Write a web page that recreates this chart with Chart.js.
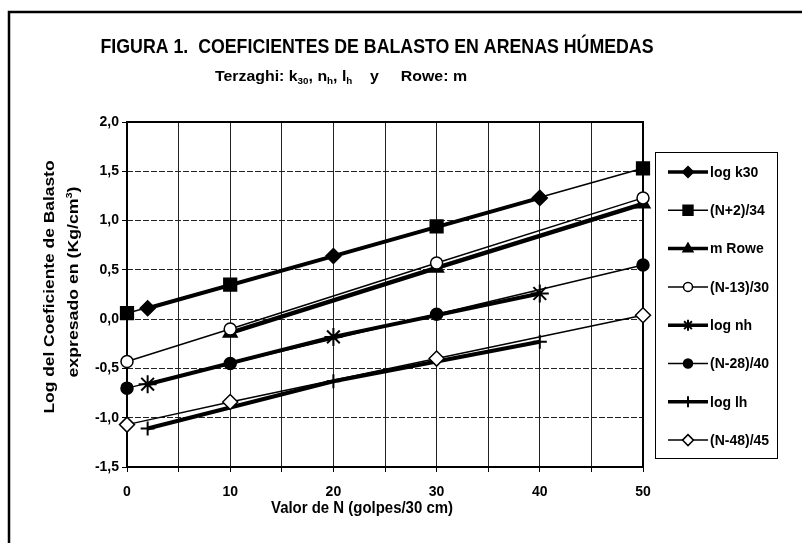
<!DOCTYPE html>
<html>
<head>
<meta charset="utf-8">
<script src="https://cdn.jsdelivr.net/npm/chart.js@4/dist/chart.umd.min.js"></script>
<style>
  html, body { margin: 0; padding: 0; background: #fff; }
  #wrap { width: 802px; height: 543px; position: relative; }
</style>
</head>
<body>
<div id="wrap"><canvas id="chart" width="802" height="543"></canvas></div>
<script>
// N values (golpes/30 cm) where each family was plotted
const nLog = [2, 20, 40];
const nFit = [0, 10, 30, 50];
const nRowe = [10, 30, 50];

// values (log of kg/cm3)
const logK30 = [0.11, 0.64, 1.23];
const fitN2 = [0.06, 0.35, 0.94, 1.53];     // (N+2)/34
const mRowe = [-0.14, 0.52, 1.17];
const fitN13 = [-0.43, -0.10, 0.57, 1.23];  // (N-13)/30
const logNh = [-0.66, -0.18, 0.26];
const fitN28 = [-0.70, -0.45, 0.05, 0.55];  // (N-28)/40
const logLh = [-1.11, -0.63, -0.23];
const fitN48 = [-1.07, -0.84, -0.40, 0.04]; // (N-48)/45

const yTicks = [-1.5, -1.0, -0.5, 0.0, 0.5, 1.0, 1.5, 2.0];
const xLabels = [0, 10, 20, 30, 40, 50];

const FONT = '"Liberation Sans", Arial, Helvetica, sans-serif';

function pts(xs, ys) {
    return xs.map((x, i) => ({ x: x, y: ys[i] }));
}

function series(label, xs, ys, opts) {
    return Object.assign({
        label: label,
        data: pts(xs, ys),
        borderColor: '#000',
        pointBorderColor: '#000',
        pointBorderWidth: 1.5,
        tension: 0,
        clip: false
    }, opts);
}

const datasets = [
    series('log k30', nLog, logK30, { borderWidth: 4, pointStyle: 'rectRot', pointRadius: 7.5, pointBackgroundColor: '#000', order: 2 }),
    series('(N+2)/34', nFit, fitN2, { borderWidth: 1.5, pointStyle: 'rect', pointRadius: 9, pointBackgroundColor: '#000', order: 1 }),
    series('m Rowe', nRowe, mRowe, { borderWidth: 4.5, pointStyle: 'triangle', pointRadius: 8, pointBackgroundColor: '#000', order: 3 }),
    series('(N-13)/30', nFit, fitN13, { borderWidth: 1.5, pointStyle: 'circle', pointRadius: 6, pointBackgroundColor: '#fff', order: 0 }),
    series('log nh', nLog, logNh, { borderWidth: 4, pointStyle: 'star', pointRadius: 9, pointBorderWidth: 2, pointBackgroundColor: '#000', order: 2 }),
    series('(N-28)/40', nFit, fitN28, { borderWidth: 1.5, pointStyle: 'circle', pointRadius: 6, pointBackgroundColor: '#000', order: 1 }),
    series('log lh', nLog, logLh, { borderWidth: 4, pointStyle: 'cross', pointRadius: 7, pointBorderWidth: 2, pointBackgroundColor: '#000', order: 2 }),
    series('(N-48)/45', nFit, fitN48, { borderWidth: 1.5, pointStyle: 'rectRot', pointRadius: 7.5, pointBackgroundColor: '#fff', order: 0 })
];

// text made of pieces, some of them sub/superscript, squeezed to a given width
function richText(ctx, parts, size, targetWidth) {
    let w = 0;
    parts.forEach(p => {
        const s = p.sub || p.sup ? size * 0.62 : size;
        ctx.font = 'bold ' + s + 'px ' + FONT;
        p._w = ctx.measureText(p.t).width;
        p._s = s;
        w += p._w;
    });
    const sx = targetWidth ? targetWidth / w : 1;
    return { w: w, sx: sx };
}

function drawRich(ctx, parts, cx, baseline, size, targetWidth, rotate) {
    const m = richText(ctx, parts, size, targetWidth);
    ctx.save();
    ctx.translate(cx, baseline);
    if (rotate) ctx.rotate(-Math.PI / 2);
    ctx.scale(m.sx, 1);
    ctx.fillStyle = '#000';
    ctx.textBaseline = 'alphabetic';
    ctx.textAlign = 'left';
    let x = -m.w / 2;
    parts.forEach(p => {
        ctx.font = 'bold ' + p._s + 'px ' + FONT;
        let dy = 0;
        if (p.sub) dy = size * 0.22;
        if (p.sup) dy = -size * 0.42;
        ctx.fillText(p.t, x, dy);
        x += p._w;
    });
    ctx.restore();
}

function drawMarker(ctx, style, r, x, y, fill, lw) {
    ctx.save();
    ctx.fillStyle = fill;
    ctx.strokeStyle = '#000';
    ctx.lineWidth = lw;
    ctx.beginPath();
    if (style === 'circle') {
        ctx.arc(x, y, r, 0, Math.PI * 2);
    } else if (style === 'rect') {
        const s = r * Math.SQRT1_2;
        ctx.rect(x - s, y - s, 2 * s, 2 * s);
    } else if (style === 'rectRot') {
        ctx.moveTo(x, y - r); ctx.lineTo(x + r, y); ctx.lineTo(x, y + r); ctx.lineTo(x - r, y); ctx.closePath();
    } else if (style === 'triangle') {
        ctx.moveTo(x, y - r); ctx.lineTo(x + r * 0.9, y + r * 0.55); ctx.lineTo(x - r * 0.9, y + r * 0.55); ctx.closePath();
    }
    if (style === 'star' || style === 'cross') {
        ctx.moveTo(x - r, y); ctx.lineTo(x + r, y);
        ctx.moveTo(x, y - r); ctx.lineTo(x, y + r);
        if (style === 'star') {
            const d = r * Math.SQRT1_2;
            ctx.moveTo(x - d, y - d); ctx.lineTo(x + d, y + d);
            ctx.moveTo(x - d, y + d); ctx.lineTo(x + d, y - d);
        }
        ctx.stroke();
    } else {
        ctx.fill();
        ctx.stroke();
    }
    ctx.restore();
}

const decorations = {
    id: 'decorations',
    beforeDatasetsDraw(chart) {
        const ctx = chart.ctx;
        const a = chart.chartArea;
        ctx.save();
        ctx.strokeStyle = '#000';
        ctx.lineWidth = 2;
        ctx.strokeRect(a.left, a.top, a.right - a.left, a.bottom - a.top);
        ctx.restore();
    },
    afterDraw(chart) {
        const ctx = chart.ctx;

        // outer frame (left and top only)
        ctx.save();
        ctx.strokeStyle = '#000';
        ctx.lineWidth = 2.5;
        ctx.beginPath();
        ctx.moveTo(9, 543);
        ctx.lineTo(9, 12);
        ctx.lineTo(802, 12);
        ctx.stroke();
        ctx.restore();

        // titles
        drawRich(ctx, [{ t: 'FIGURA 1.  COEFICIENTES DE BALASTO EN ARENAS HÚMEDAS' }], 377, 53, 20, 553);
        drawRich(ctx, [
            { t: 'Terzaghi: k' }, { t: '30', sub: true }, { t: ', n' }, { t: 'h', sub: true },
            { t: ', l' }, { t: 'h', sub: true }, { t: '    y     Rowe: m' }
        ], 341, 81, 15, 252);

        // axis titles
        drawRich(ctx, [{ t: 'Valor de N (golpes/30 cm)' }], 362, 513, 16, 182);
        drawRich(ctx, [{ t: 'Log del Coeficiente de Balasto' }], 54, 287, 15, 253, true);
        drawRich(ctx, [{ t: 'expresado en (Kg/cm' }, { t: '3', sup: true }, { t: ')' }], 78, 282, 15, 191, true);

        // legend
        ctx.save();
        ctx.strokeStyle = '#000';
        ctx.lineWidth = 1;
        ctx.strokeRect(655.5, 152.5, 122, 306);
        ctx.restore();
        chart.data.datasets.forEach((ds, i) => {
            const y = 172 + i * 38.3;
            ctx.save();
            ctx.strokeStyle = '#000';
            ctx.lineWidth = Math.min(ds.borderWidth, 3.5);
            ctx.beginPath();
            ctx.moveTo(668, y);
            ctx.lineTo(708, y);
            ctx.stroke();
            ctx.restore();
            const r = ds.pointStyle === 'rect' ? 7 : (ds.pointStyle === 'circle' ? 4.5 : 5.5);
            drawMarker(ctx, ds.pointStyle, r, 688, y, ds.pointBackgroundColor, ds.pointBorderWidth);
            ctx.save();
            ctx.fillStyle = '#000';
            ctx.font = 'bold 14px ' + FONT;
            ctx.textBaseline = 'middle';
            ctx.textAlign = 'left';
            ctx.fillText(ds.label, 710, y + 1);
            ctx.restore();
        });
    }
};

new Chart(document.getElementById('chart'), {
    type: 'line',
    data: { datasets: datasets },
    plugins: [decorations],
    options: {
        responsive: false,
        animation: false,
        events: [],
        layout: { padding: { left: 0, top: 122, right: 159, bottom: 0 } },
        plugins: {
            legend: { display: false },
            tooltip: { enabled: false },
            title: { display: false }
        },
        scales: {
            x: {
                type: 'linear',
                min: 0,
                max: 50,
                afterFit: s => { s.height = 76; },
                afterBuildTicks: s => { s.ticks = [0, 5, 10, 15, 20, 25, 30, 35, 40, 45, 50].map(v => ({ value: v })); },
                ticks: {
                    autoSkip: false,
                    maxRotation: 0,
                    padding: 12,
                    color: '#000',
                    font: { family: FONT, size: 14, weight: 'bold' },
                    callback: v => xLabels.includes(v) ? String(v) : ''
                },
                grid: { color: '#222', lineWidth: 1, tickLength: 5, tickColor: '#000', tickBorderDash: [] },
                border: { display: false }
            },
            y: {
                type: 'linear',
                min: -1.5,
                max: 2.0,
                afterFit: s => { s.width = 127; },
                afterBuildTicks: s => { s.ticks = yTicks.map(v => ({ value: v })); },
                ticks: {
                    padding: 3,
                    color: '#000',
                    font: { family: FONT, size: 14, weight: 'bold' },
                    callback: v => v.toFixed(1).replace('.', ',')
                },
                grid: { color: '#222', lineWidth: 1, tickLength: 5, tickColor: '#000', tickBorderDash: [] },
                border: { display: false, dash: [6, 2] }
            }
        }
    }
});
</script>
</body>
</html>
